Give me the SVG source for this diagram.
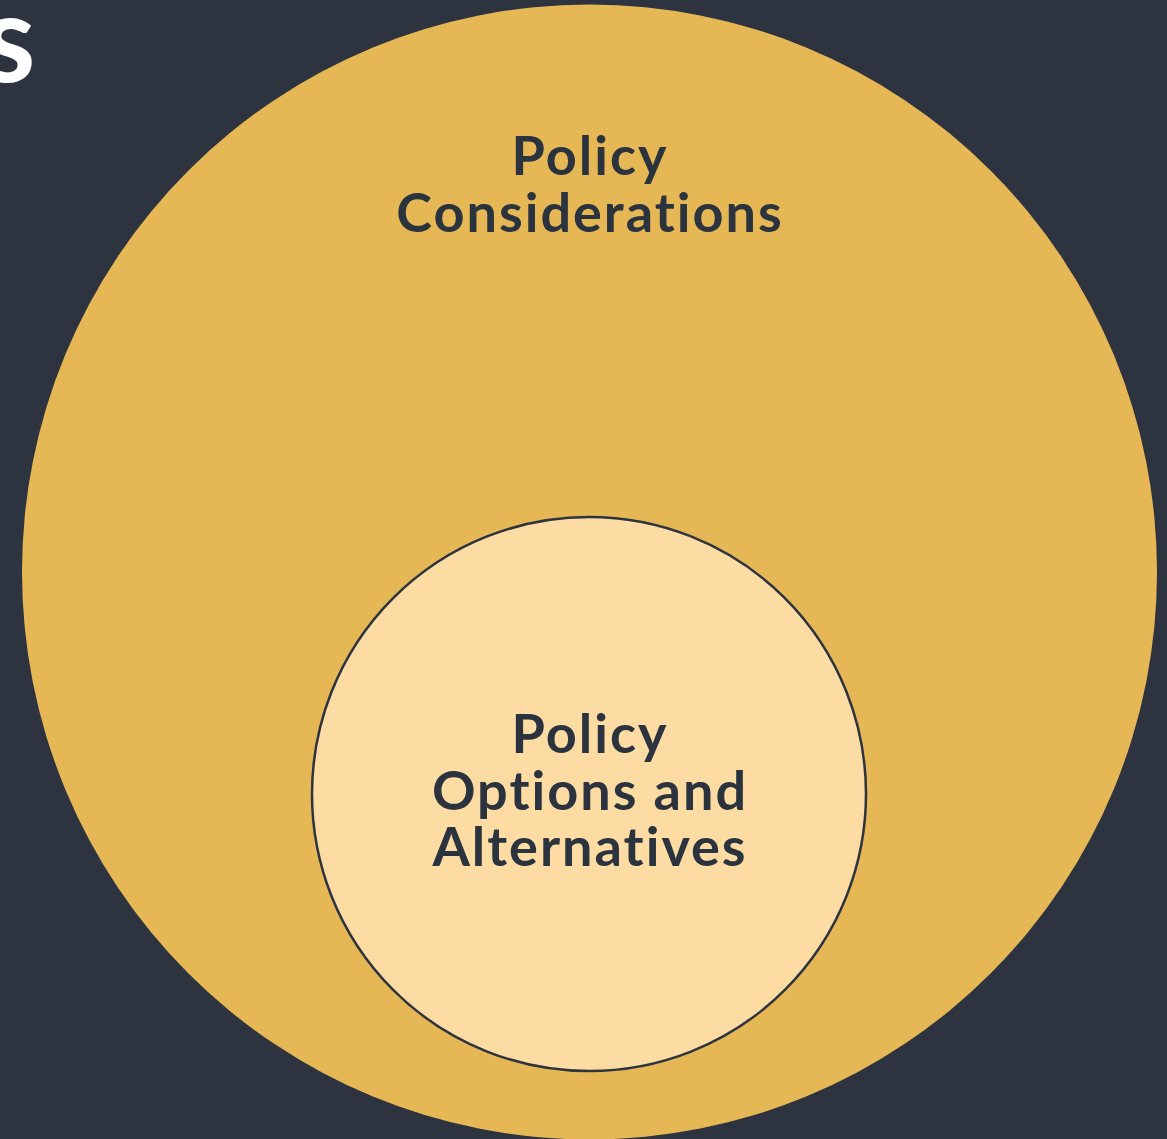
<svg xmlns="http://www.w3.org/2000/svg" width="1167" height="1139" viewBox="0 0 1167 1139">
<style>
.lbl{font-family:Lato,"Open Sans","Liberation Sans",sans-serif;font-weight:700;font-size:54px;letter-spacing:2px;font-variant-ligatures:none;fill:#2b333e;text-anchor:middle}
</style>
<rect width="1167" height="1139" fill="#2d3440"/>
<text x="-18" y="82" font-family="Lato,'Liberation Sans',sans-serif" font-weight="700" font-size="122" fill="#ffffff">s</text>
<g id="outer">
<circle cx="589.5" cy="572" r="567.5" fill="#e6b855"/>
<text class="lbl" x="590" y="175">Policy</text>
<text class="lbl" x="590" y="232">Considerations</text>
</g>
<g id="inner">
<circle cx="589" cy="794" r="277" fill="#fcdca3" stroke="#2d3440" stroke-width="2.5"/>
<text class="lbl" x="590" y="753">Policy</text>
<text class="lbl" x="590" y="810">Options and</text>
<text class="lbl" x="590" y="866">Alternatives</text>
</g>
<g id="connectors"/>
</svg>
